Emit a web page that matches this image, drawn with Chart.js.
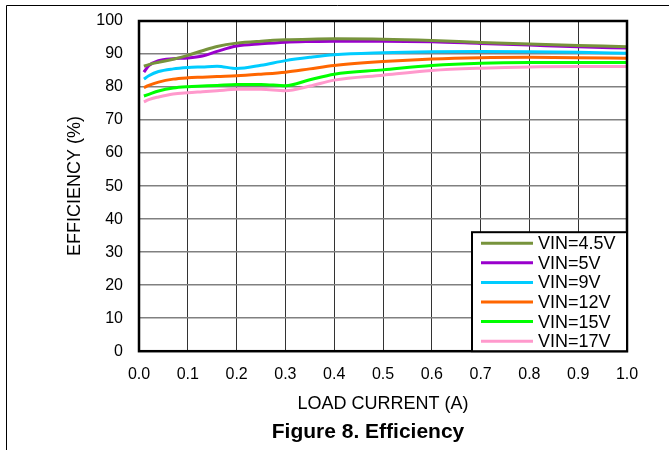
<!DOCTYPE html>
<html>
<head>
<meta charset="utf-8">
<script src="https://cdn.jsdelivr.net/npm/chart.js@4/dist/chart.umd.min.js"></script>
<style>
  body { margin: 0; background: #fff; }
  #wrap { width: 669px; height: 450px; }
</style>
</head>
<body>
<div id="wrap"><canvas id="efficiency"></canvas></div>
<script>
// Load current (A)
let loadCurrent = [0.01, 0.02, 0.04, 0.07, 0.1, 0.13, 0.16, 0.2, 0.25, 0.3, 0.35, 0.4, 0.5, 0.6, 0.7, 0.8, 0.9, 1.0];

// Efficiency (%) per input voltage
let vin45 = [86.3, 86.8, 87.5, 88.4, 89.6, 91.0, 92.3, 93.3, 93.9, 94.3, 94.5, 94.6, 94.5, 94.1, 93.5, 93.0, 92.6, 92.2];
let vin5  = [84.5, 86.5, 88.0, 88.6, 88.8, 89.4, 90.8, 92.4, 93.1, 93.6, 93.8, 93.9, 93.9, 93.7, 93.2, 92.7, 92.2, 91.8];
let vin9  = [82.4, 83.4, 84.7, 85.5, 85.9, 86.1, 86.3, 85.6, 86.6, 88.0, 89.0, 89.8, 90.4, 90.7, 90.8, 90.7, 90.5, 90.2];
let vin12 = [79.8, 80.5, 81.5, 82.4, 82.8, 83.0, 83.2, 83.4, 83.9, 84.5, 85.5, 86.5, 87.7, 88.5, 88.9, 89.0, 88.9, 88.7];
let vin15 = [77.3, 77.8, 78.8, 79.7, 80.1, 80.3, 80.5, 80.8, 80.8, 80.4, 82.2, 83.9, 85.2, 86.5, 87.2, 87.4, 87.4, 87.4];
let vin17 = [75.5, 76.2, 77.0, 77.9, 78.3, 78.6, 78.9, 79.3, 79.3, 78.9, 80.3, 82.1, 83.6, 85.0, 85.7, 86.1, 86.2, 86.2];

// Series labels
let labels = ["VIN=4.5V", "VIN=5V", "VIN=9V", "VIN=12V", "VIN=15V", "VIN=17V"];
let caption = "Figure 8. Efficiency";

// Line colors
let olive = "#77933C";
let purple = "#9900CC";
let cyan = "#00CCFF";
let orange = "#FF6600";
let green = "#00FF00";
let pink = "#FF99CC";

let fontName = "'Liberation Sans', Arial, sans-serif";

function series(label, values, color) {
  return {
    label: label,
    data: values.map((v, i) => ({ x: loadCurrent[i], y: v })),
    borderColor: color,
    backgroundColor: color,
    borderWidth: 3,
    pointRadius: 0,
    cubicInterpolationMode: 'monotone',
    fill: false
  };
}

// Page frame, plot border, legend box and figure caption
let decorations = {
  id: 'decorations',
  beforeDraw(chart) {
    let ctx = chart.ctx;
    ctx.save();
    ctx.fillStyle = "#fff";
    ctx.fillRect(0, 0, chart.width, chart.height);
    ctx.strokeStyle = "#000";
    ctx.lineWidth = 1;
    ctx.beginPath();
    ctx.moveTo(669, 5.5);
    ctx.lineTo(6.5, 5.5);
    ctx.lineTo(6.5, 450);
    ctx.stroke();
    ctx.restore();
  },
  afterDraw(chart) {
    let ctx = chart.ctx;
    let a = chart.chartArea;
    ctx.save();
    ctx.strokeStyle = "#000";
    ctx.lineWidth = 2.5;
    ctx.strokeRect(a.left, a.top, a.right - a.left, a.bottom - a.top);

    // legend
    let w = 155, h = 119;
    let bx = a.right - w, by = a.bottom - h;
    ctx.fillStyle = "#fff";
    ctx.fillRect(bx, by, w, h);
    ctx.lineWidth = 2;
    ctx.strokeRect(bx, by, w, h);
    ctx.font = "18px " + fontName;
    ctx.textBaseline = "middle";
    ctx.textAlign = "left";
    chart.data.datasets.forEach((ds, i) => {
      let y = by + 11 + i * 19.6;
      ctx.strokeStyle = ds.borderColor;
      ctx.lineWidth = 3;
      ctx.beginPath();
      ctx.moveTo(bx + 9, y);
      ctx.lineTo(bx + 61, y);
      ctx.stroke();
      ctx.fillStyle = "#000";
      ctx.fillText(ds.label, bx + 66, y + 1);
    });

    // caption
    ctx.font = "bold 21px " + fontName;
    ctx.textAlign = "center";
    ctx.fillText(caption, 368, 432);
    ctx.restore();
  }
};

new Chart(document.getElementById("efficiency").getContext('2d'), {
  type: 'line',
  data: {
    datasets: [
      series(labels[0], vin45, olive),
      series(labels[1], vin5, purple),
      series(labels[2], vin9, cyan),
      series(labels[3], vin12, orange),
      series(labels[4], vin15, green),
      series(labels[5], vin17, pink)
    ]
  },
  options: {
    responsive: true,
    maintainAspectRatio: false,
    animation: false,
    layout: {
      padding: { left: 58, right: 42, top: 21, bottom: 32 }
    },
    scales: {
      x: {
        type: 'linear',
        min: 0,
        max: 1,
        ticks: {
          stepSize: 0.1,
          color: "#000",
          font: { family: fontName, size: 16 },
          padding: 14,
          callback: v => v.toFixed(1)
        },
        grid: { color: "#333", lineWidth: 1, drawTicks: false },
        border: { display: false },
        title: {
          display: true,
          text: "LOAD CURRENT (A)",
          color: "#000",
          font: { family: fontName, size: 18 },
          padding: { top: -5, bottom: 3 }
        }
      },
      y: {
        min: 0,
        max: 100,
        ticks: {
          stepSize: 10,
          color: "#000",
          font: { family: fontName, size: 16 },
          padding: 16
        },
        grid: { color: "#808080", lineWidth: 1.5, drawTicks: false },
        border: { display: false },
        title: {
          display: true,
          text: "EFFICIENCY (%)",
          color: "#000",
          font: { family: fontName, size: 18 },
          padding: { top: 6, bottom: 4 }
        },
        afterFit: scale => {
          scale.width = 81;
          scale.paddingTop = 0;
          scale.paddingBottom = 0;
        }
      }
    },
    plugins: {
      legend: { display: false },
      tooltip: { enabled: false },
      title: { display: false }
    }
  },
  plugins: [decorations]
});
</script>
</body>
</html>
